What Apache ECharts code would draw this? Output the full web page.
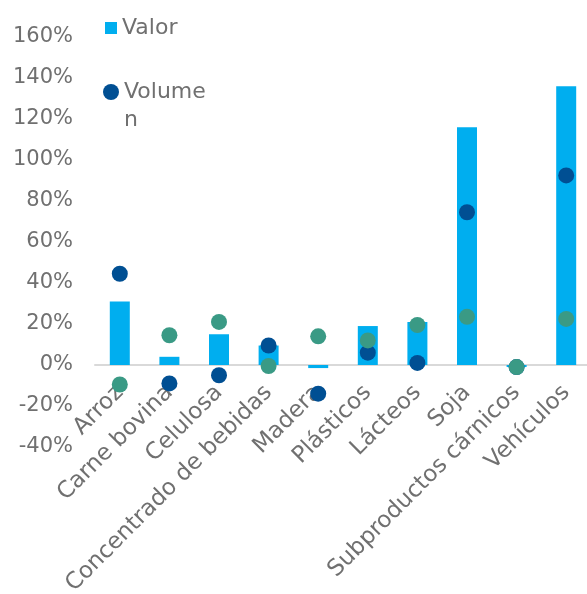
<!DOCTYPE html>
<html>
<head>
<meta charset="utf-8">
<script src="https://cdn.jsdelivr.net/npm/echarts@6/dist/echarts.min.js"></script>
<style>
  html, body { margin: 0; padding: 0; background: #fff; }
  #chart { width: 587px; height: 594px; }
</style>
</head>
<body>
<div id="chart"></div>
<script>
// categorias y variaciones (%)
const categorias = ['Arroz', 'Carne bovina', 'Celulosa', 'Concentrado de bebidas', 'Madera',
  'Plásticos', 'Lácteos', 'Soja', 'Subproductos cárnicos', 'Vehículos']
const valor = [31, 4, 15, 9.5, -1.5, 19, 21, 116, -1, 136]
const volumen = [44.5, -9, -5, 9.5, -14, 6, 1, 74.5, -1, 92.5]
const precio = [-9.5, 14.5, 21, -0.5, 14, 12, 19.5, 23.5, -1, 22.5]

const gris = '#707070'
const fuente = 'DejaVu Sans'

const gridArriba = 37
const gridAlto = 410
const yMin = -40
const yMax = 160
// desplazamiento del eje x hasta la linea del 0%
const offsetCero = -Math.round(gridAlto * (0 - yMin) / (yMax - yMin))

let chart = echarts.init(document.getElementById('chart'))
let option = {
  animation: false,
  textStyle: { fontFamily: fuente },
  legend: [
    {
      data: ['Valor'],
      left: 105,
      top: 17,
      padding: 0,
      icon: 'rect',
      itemWidth: 12,
      itemHeight: 12,
      itemGap: 6,
      textStyle: { color: gris, fontSize: 22, fontFamily: fuente }
    },
    {
      data: ['Volumen'],
      left: 103,
      top: 50,
      padding: 0,
      icon: 'circle',
      itemWidth: 16,
      itemHeight: 16,
      // el texto se corta en dos lineas como en el original
      formatter: function () { return ' \nVolume\nn' },
      textStyle: { color: gris, fontSize: 22, fontFamily: fuente, lineHeight: 28 }
    }
  ],
  grid: {
    left: 95,
    right: -4,
    top: gridArriba,
    height: gridAlto,
    outerBoundsMode: 'none',
    containLabel: false
  },
  xAxis: {
    type: 'category',
    data: categorias,
    offset: offsetCero,
    axisLine: { onZero: false, lineStyle: { color: '#d9d9d9', width: 2 } },
    axisTick: { show: false },
    axisLabel: {
      rotate: 45,
      interval: 0,
      margin: 24,
      color: gris,
      fontSize: 23,
      fontFamily: fuente
    }
  },
  yAxis: {
    type: 'value',
    min: yMin,
    max: yMax,
    interval: 20,
    axisLine: { show: false },
    axisTick: { show: false },
    splitLine: { show: false },
    axisLabel: {
      formatter: '{value}%',
      color: gris,
      fontSize: 21,
      margin: 22,
      fontFamily: fuente
    }
  },
  series: [
    {
      name: 'Valor',
      type: 'bar',
      data: valor,
      barWidth: 20,
      itemStyle: { color: '#00aeef' }
    },
    {
      name: 'Volumen',
      type: 'scatter',
      data: volumen,
      symbolSize: 16,
      itemStyle: { color: '#004f93', opacity: 1 }
    },
    {
      name: 'Precio',
      type: 'scatter',
      data: precio,
      symbolSize: 16,
      itemStyle: { color: '#3a9a85', opacity: 1 }
    }
  ]
}
chart.setOption(option)
</script>
</body>
</html>
